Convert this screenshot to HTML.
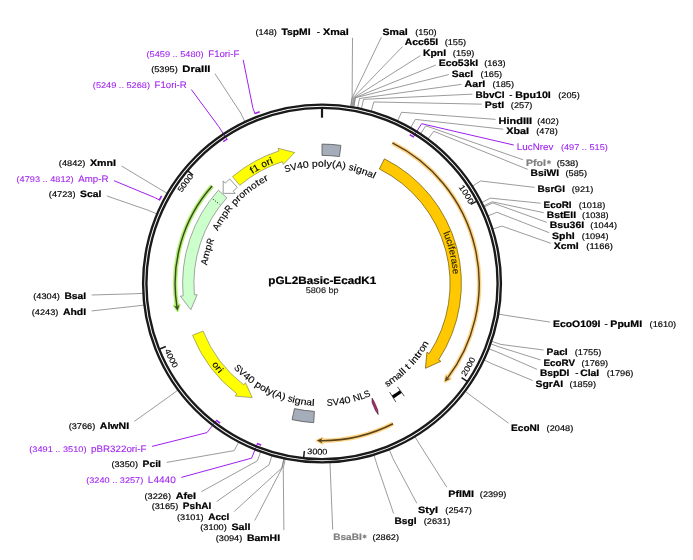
<!DOCTYPE html>
<html><head><meta charset="utf-8"><title>pGL2Basic-EcadK1</title>
<style>html,body{margin:0;padding:0;background:#fff;font-family:"Liberation Sans",sans-serif}svg{display:block;filter:blur(0.35px)}</style>
</head><body>
<svg width="693" height="560" viewBox="0 0 693 560" font-family="'Liberation Sans', sans-serif" text-rendering="geometricPrecision">
<rect width="693" height="560" fill="#fff"/>
<text x="382.5" y="34.7" font-size="9.3" font-weight="bold" fill="#000" stroke="#000" stroke-width="0.22" textLength="25.28" lengthAdjust="spacingAndGlyphs">SmaI</text>
<text x="415.15" y="34.7" font-size="8.2" fill="#000" stroke="#000" stroke-width="0.16" textLength="21.51" lengthAdjust="spacingAndGlyphs">(150)</text>
<text x="404.7" y="45.2" font-size="9.3" font-weight="bold" fill="#000" stroke="#000" stroke-width="0.22" textLength="33.51" lengthAdjust="spacingAndGlyphs">Acc65I</text>
<text x="444.7" y="45.2" font-size="8.2" fill="#000" stroke="#000" stroke-width="0.16" textLength="21.51" lengthAdjust="spacingAndGlyphs">(155)</text>
<text x="422.9" y="55.7" font-size="9.3" font-weight="bold" fill="#000" stroke="#000" stroke-width="0.22" textLength="23.17" lengthAdjust="spacingAndGlyphs">KpnI</text>
<text x="452.87" y="55.7" font-size="8.2" fill="#000" stroke="#000" stroke-width="0.16" textLength="21.51" lengthAdjust="spacingAndGlyphs">(159)</text>
<text x="438.7" y="66.2" font-size="9.3" font-weight="bold" fill="#000" stroke="#000" stroke-width="0.22" textLength="39.52" lengthAdjust="spacingAndGlyphs">Eco53kI</text>
<text x="484.16" y="66.2" font-size="8.2" fill="#000" stroke="#000" stroke-width="0.16" textLength="21.51" lengthAdjust="spacingAndGlyphs">(163)</text>
<text x="451.8" y="76.6" font-size="9.3" font-weight="bold" fill="#000" stroke="#000" stroke-width="0.22" textLength="21.24" lengthAdjust="spacingAndGlyphs">SacI</text>
<text x="480.63" y="76.6" font-size="8.2" fill="#000" stroke="#000" stroke-width="0.16" textLength="21.51" lengthAdjust="spacingAndGlyphs">(165)</text>
<text x="464.5" y="87.1" font-size="9.3" font-weight="bold" fill="#000" stroke="#000" stroke-width="0.22" textLength="20.83" lengthAdjust="spacingAndGlyphs">AarI</text>
<text x="492.53" y="87.1" font-size="8.2" fill="#000" stroke="#000" stroke-width="0.16" textLength="21.51" lengthAdjust="spacingAndGlyphs">(185)</text>
<text x="475.5" y="97.5" font-size="9.3" font-weight="bold" fill="#000" stroke="#000" stroke-width="0.22" textLength="29.12" lengthAdjust="spacingAndGlyphs">BbvCI</text>
<text x="509.32" y="97.5" font-size="9.3" fill="#000" stroke="#000" stroke-width="0.16" textLength="3.25" lengthAdjust="spacingAndGlyphs">-</text>
<text x="515.22" y="97.5" font-size="9.3" font-weight="bold" fill="#000" stroke="#000" stroke-width="0.22" textLength="35.58" lengthAdjust="spacingAndGlyphs">Bpu10I</text>
<text x="558.3" y="97.5" font-size="8.2" fill="#000" stroke="#000" stroke-width="0.16" textLength="21.51" lengthAdjust="spacingAndGlyphs">(205)</text>
<text x="484.7" y="108" font-size="9.3" font-weight="bold" fill="#000" stroke="#000" stroke-width="0.22" textLength="19.45" lengthAdjust="spacingAndGlyphs">PstI</text>
<text x="510.84" y="108" font-size="8.2" fill="#000" stroke="#000" stroke-width="0.16" textLength="21.51" lengthAdjust="spacingAndGlyphs">(257)</text>
<text x="498.6" y="123.6" font-size="9.3" font-weight="bold" fill="#000" stroke="#000" stroke-width="0.22" textLength="33.51" lengthAdjust="spacingAndGlyphs">HindIII</text>
<text x="537.25" y="123.6" font-size="8.2" fill="#000" stroke="#000" stroke-width="0.16" textLength="21.51" lengthAdjust="spacingAndGlyphs">(402)</text>
<text x="506.2" y="133.7" font-size="9.3" font-weight="bold" fill="#000" stroke="#000" stroke-width="0.22" textLength="22.8" lengthAdjust="spacingAndGlyphs">XbaI</text>
<text x="536.25" y="133.7" font-size="8.2" fill="#000" stroke="#000" stroke-width="0.16" textLength="21.51" lengthAdjust="spacingAndGlyphs">(478)</text>
<text x="516.8" y="150.3" font-size="9.3" fill="#a020f0" stroke="#a020f0" stroke-width="0.08" textLength="36.61" lengthAdjust="spacingAndGlyphs">LucNrev</text>
<text x="560.91" y="150.3" font-size="8.2" fill="#a020f0" stroke="#a020f0" stroke-width="0.08" textLength="46.95" lengthAdjust="spacingAndGlyphs">(497 .. 515)</text>
<text x="526" y="165.8" font-size="9.3" font-weight="bold" fill="#808080" stroke="#808080" stroke-width="0.22" textLength="20.04" lengthAdjust="spacingAndGlyphs">PfoI</text>
<path d="M548.94,160.1 L548.94,164.3" stroke="#808080" stroke-width="1.05"/>
<path d="M550.76,161.15 L547.12,163.25" stroke="#808080" stroke-width="1.05"/>
<path d="M550.76,163.25 L547.12,161.15" stroke="#808080" stroke-width="1.05"/>
<text x="556.75" y="165.8" font-size="8.2" fill="#000" stroke="#000" stroke-width="0.16" textLength="21.51" lengthAdjust="spacingAndGlyphs">(538)</text>
<text x="530.6" y="175.7" font-size="9.3" font-weight="bold" fill="#000" stroke="#000" stroke-width="0.22" textLength="28.58" lengthAdjust="spacingAndGlyphs">BsiWI</text>
<text x="565.52" y="175.7" font-size="8.2" fill="#000" stroke="#000" stroke-width="0.16" textLength="21.51" lengthAdjust="spacingAndGlyphs">(585)</text>
<text x="537.6" y="191.9" font-size="9.3" font-weight="bold" fill="#000" stroke="#000" stroke-width="0.22" textLength="27.39" lengthAdjust="spacingAndGlyphs">BsrGI</text>
<text x="571.79" y="191.9" font-size="8.2" fill="#000" stroke="#000" stroke-width="0.16" textLength="21.51" lengthAdjust="spacingAndGlyphs">(921)</text>
<text x="543.6" y="207.6" font-size="9.3" font-weight="bold" fill="#000" stroke="#000" stroke-width="0.22" textLength="27.95" lengthAdjust="spacingAndGlyphs">EcoRI</text>
<text x="578.65" y="207.6" font-size="8.2" fill="#000" stroke="#000" stroke-width="0.16" textLength="26.6" lengthAdjust="spacingAndGlyphs">(1018)</text>
<text x="546.7" y="217.8" font-size="9.3" font-weight="bold" fill="#000" stroke="#000" stroke-width="0.22" textLength="29.36" lengthAdjust="spacingAndGlyphs">BstEII</text>
<text x="582.09" y="217.8" font-size="8.2" fill="#000" stroke="#000" stroke-width="0.16" textLength="26.6" lengthAdjust="spacingAndGlyphs">(1038)</text>
<text x="549.7" y="228.4" font-size="9.3" font-weight="bold" fill="#000" stroke="#000" stroke-width="0.22" textLength="34.5" lengthAdjust="spacingAndGlyphs">Bsu36I</text>
<text x="590.37" y="228.4" font-size="8.2" fill="#000" stroke="#000" stroke-width="0.16" textLength="26.6" lengthAdjust="spacingAndGlyphs">(1044)</text>
<text x="552.1" y="238.9" font-size="9.3" font-weight="bold" fill="#000" stroke="#000" stroke-width="0.22" textLength="22.68" lengthAdjust="spacingAndGlyphs">SphI</text>
<text x="581.89" y="238.9" font-size="8.2" fill="#000" stroke="#000" stroke-width="0.16" textLength="26.6" lengthAdjust="spacingAndGlyphs">(1094)</text>
<text x="553.7" y="249.3" font-size="9.3" font-weight="bold" fill="#000" stroke="#000" stroke-width="0.22" textLength="25" lengthAdjust="spacingAndGlyphs">XcmI</text>
<text x="586.24" y="249.3" font-size="8.2" fill="#000" stroke="#000" stroke-width="0.16" textLength="26.6" lengthAdjust="spacingAndGlyphs">(1166)</text>
<text x="553" y="326.8" font-size="9.3" font-weight="bold" fill="#000" stroke="#000" stroke-width="0.22" textLength="47.45" lengthAdjust="spacingAndGlyphs">EcoO109I</text>
<text x="604.55" y="326.8" font-size="9.3" fill="#000" stroke="#000" stroke-width="0.16" textLength="3.25" lengthAdjust="spacingAndGlyphs">-</text>
<text x="610.35" y="326.8" font-size="9.3" font-weight="bold" fill="#000" stroke="#000" stroke-width="0.22" textLength="31.75" lengthAdjust="spacingAndGlyphs">PpuMI</text>
<text x="649.6" y="326.8" font-size="8.2" fill="#000" stroke="#000" stroke-width="0.16" textLength="26.6" lengthAdjust="spacingAndGlyphs">(1610)</text>
<text x="546.6" y="354.6" font-size="9.3" font-weight="bold" fill="#000" stroke="#000" stroke-width="0.22" textLength="21.11" lengthAdjust="spacingAndGlyphs">PacI</text>
<text x="574.74" y="354.6" font-size="8.2" fill="#000" stroke="#000" stroke-width="0.16" textLength="26.6" lengthAdjust="spacingAndGlyphs">(1755)</text>
<text x="543.5" y="365.7" font-size="9.3" font-weight="bold" fill="#000" stroke="#000" stroke-width="0.22" textLength="31.56" lengthAdjust="spacingAndGlyphs">EcoRV</text>
<text x="581.56" y="365.7" font-size="8.2" fill="#000" stroke="#000" stroke-width="0.16" textLength="26.6" lengthAdjust="spacingAndGlyphs">(1769)</text>
<text x="539.9" y="375.8" font-size="9.3" font-weight="bold" fill="#000" stroke="#000" stroke-width="0.22" textLength="29.48" lengthAdjust="spacingAndGlyphs">BspDI</text>
<text x="575.18" y="375.8" font-size="9.3" fill="#000" stroke="#000" stroke-width="0.16" textLength="3.25" lengthAdjust="spacingAndGlyphs">-</text>
<text x="580.18" y="375.8" font-size="9.3" font-weight="bold" fill="#000" stroke="#000" stroke-width="0.22" textLength="19.11" lengthAdjust="spacingAndGlyphs">ClaI</text>
<text x="606.79" y="375.8" font-size="8.2" fill="#000" stroke="#000" stroke-width="0.16" textLength="26.6" lengthAdjust="spacingAndGlyphs">(1796)</text>
<text x="535.5" y="386.8" font-size="9.3" font-weight="bold" fill="#000" stroke="#000" stroke-width="0.22" textLength="27.68" lengthAdjust="spacingAndGlyphs">SgrAI</text>
<text x="569.44" y="386.8" font-size="8.2" fill="#000" stroke="#000" stroke-width="0.16" textLength="26.6" lengthAdjust="spacingAndGlyphs">(1859)</text>
<text x="511.1" y="431" font-size="9.3" font-weight="bold" fill="#000" stroke="#000" stroke-width="0.22" textLength="28.55" lengthAdjust="spacingAndGlyphs">EcoNI</text>
<text x="546.63" y="431" font-size="8.2" fill="#000" stroke="#000" stroke-width="0.16" textLength="26.6" lengthAdjust="spacingAndGlyphs">(2048)</text>
<text x="448.3" y="496.7" font-size="9.3" font-weight="bold" fill="#000" stroke="#000" stroke-width="0.22" textLength="25.57" lengthAdjust="spacingAndGlyphs">PflMI</text>
<text x="479.82" y="496.7" font-size="8.2" fill="#000" stroke="#000" stroke-width="0.16" textLength="26.6" lengthAdjust="spacingAndGlyphs">(2399)</text>
<text x="418.1" y="513.1" font-size="9.3" font-weight="bold" fill="#000" stroke="#000" stroke-width="0.22" textLength="20" lengthAdjust="spacingAndGlyphs">StyI</text>
<text x="445.32" y="513.1" font-size="8.2" fill="#000" stroke="#000" stroke-width="0.16" textLength="26.6" lengthAdjust="spacingAndGlyphs">(2547)</text>
<text x="394.5" y="523.7" font-size="9.3" font-weight="bold" fill="#000" stroke="#000" stroke-width="0.22" textLength="22.01" lengthAdjust="spacingAndGlyphs">BsgI</text>
<text x="423.73" y="523.7" font-size="8.2" fill="#000" stroke="#000" stroke-width="0.16" textLength="26.6" lengthAdjust="spacingAndGlyphs">(2631)</text>
<text x="333.2" y="540.1" font-size="9.3" font-weight="bold" fill="#808080" stroke="#808080" stroke-width="0.22" textLength="28.5" lengthAdjust="spacingAndGlyphs">BsaBI</text>
<path d="M364.6,534.4 L364.6,538.6" stroke="#808080" stroke-width="1.05"/>
<path d="M366.42,535.45 L362.78,537.55" stroke="#808080" stroke-width="1.05"/>
<path d="M366.42,537.55 L362.78,535.45" stroke="#808080" stroke-width="1.05"/>
<text x="372.4" y="540.1" font-size="8.2" fill="#000" stroke="#000" stroke-width="0.16" textLength="26.6" lengthAdjust="spacingAndGlyphs">(2862)</text>
<text x="281.51" y="34.6" font-size="9.3" font-weight="bold" fill="#000" stroke="#000" stroke-width="0.22" textLength="29.05" lengthAdjust="spacingAndGlyphs">TspMI</text>
<text x="316.76" y="34.6" font-size="9.3" fill="#000" stroke="#000" stroke-width="0.16" textLength="3.25" lengthAdjust="spacingAndGlyphs">-</text>
<text x="322.96" y="34.6" font-size="9.3" font-weight="bold" fill="#000" stroke="#000" stroke-width="0.22" textLength="25.74" lengthAdjust="spacingAndGlyphs">XmaI</text>
<text x="255.4" y="34.6" font-size="8.2" fill="#000" stroke="#000" stroke-width="0.16" textLength="21.51" lengthAdjust="spacingAndGlyphs">(148)</text>
<text x="208.27" y="56.8" font-size="9.3" fill="#a020f0" stroke="#a020f0" stroke-width="0.08" textLength="31.03" lengthAdjust="spacingAndGlyphs">F1ori-F</text>
<text x="146.53" y="56.8" font-size="8.2" fill="#a020f0" stroke="#a020f0" stroke-width="0.08" textLength="57.13" lengthAdjust="spacingAndGlyphs">(5459 .. 5480)</text>
<text x="182.37" y="71.6" font-size="9.3" font-weight="bold" fill="#000" stroke="#000" stroke-width="0.22" textLength="28.03" lengthAdjust="spacingAndGlyphs">DraIII</text>
<text x="151.17" y="71.6" font-size="8.2" fill="#000" stroke="#000" stroke-width="0.16" textLength="26.6" lengthAdjust="spacingAndGlyphs">(5395)</text>
<text x="154.59" y="87.7" font-size="9.3" fill="#a020f0" stroke="#a020f0" stroke-width="0.08" textLength="32.11" lengthAdjust="spacingAndGlyphs">F1ori-R</text>
<text x="92.86" y="87.7" font-size="8.2" fill="#a020f0" stroke="#a020f0" stroke-width="0.08" textLength="57.13" lengthAdjust="spacingAndGlyphs">(5249 .. 5268)</text>
<text x="90.03" y="166.1" font-size="9.3" font-weight="bold" fill="#000" stroke="#000" stroke-width="0.22" textLength="26.07" lengthAdjust="spacingAndGlyphs">XmnI</text>
<text x="58.83" y="166.1" font-size="8.2" fill="#000" stroke="#000" stroke-width="0.16" textLength="26.6" lengthAdjust="spacingAndGlyphs">(4842)</text>
<text x="78.26" y="181.7" font-size="9.3" fill="#a020f0" stroke="#a020f0" stroke-width="0.08" textLength="30.14" lengthAdjust="spacingAndGlyphs">Amp-R</text>
<text x="16.53" y="181.7" font-size="8.2" fill="#a020f0" stroke="#a020f0" stroke-width="0.08" textLength="57.13" lengthAdjust="spacingAndGlyphs">(4793 .. 4812)</text>
<text x="80.06" y="197.4" font-size="9.3" font-weight="bold" fill="#000" stroke="#000" stroke-width="0.22" textLength="21.24" lengthAdjust="spacingAndGlyphs">ScaI</text>
<text x="48.86" y="197.4" font-size="8.2" fill="#000" stroke="#000" stroke-width="0.16" textLength="26.6" lengthAdjust="spacingAndGlyphs">(4723)</text>
<text x="64.46" y="298.9" font-size="9.3" font-weight="bold" fill="#000" stroke="#000" stroke-width="0.22" textLength="21.64" lengthAdjust="spacingAndGlyphs">BsaI</text>
<text x="33.26" y="298.9" font-size="8.2" fill="#000" stroke="#000" stroke-width="0.16" textLength="26.6" lengthAdjust="spacingAndGlyphs">(4304)</text>
<text x="62.94" y="315.4" font-size="9.3" font-weight="bold" fill="#000" stroke="#000" stroke-width="0.22" textLength="23.16" lengthAdjust="spacingAndGlyphs">AhdI</text>
<text x="31.74" y="315.4" font-size="8.2" fill="#000" stroke="#000" stroke-width="0.16" textLength="26.6" lengthAdjust="spacingAndGlyphs">(4243)</text>
<text x="99.85" y="429.1" font-size="9.3" font-weight="bold" fill="#000" stroke="#000" stroke-width="0.22" textLength="29.25" lengthAdjust="spacingAndGlyphs">AlwNI</text>
<text x="68.65" y="429.1" font-size="8.2" fill="#000" stroke="#000" stroke-width="0.16" textLength="26.6" lengthAdjust="spacingAndGlyphs">(3766)</text>
<text x="91.05" y="451.8" font-size="9.3" fill="#a020f0" stroke="#a020f0" stroke-width="0.08" textLength="55.45" lengthAdjust="spacingAndGlyphs">pBR322ori-F</text>
<text x="29.32" y="451.8" font-size="8.2" fill="#a020f0" stroke="#a020f0" stroke-width="0.08" textLength="57.13" lengthAdjust="spacingAndGlyphs">(3491 .. 3510)</text>
<text x="142.63" y="467.3" font-size="9.3" font-weight="bold" fill="#000" stroke="#000" stroke-width="0.22" textLength="18.37" lengthAdjust="spacingAndGlyphs">PciI</text>
<text x="111.43" y="467.3" font-size="8.2" fill="#000" stroke="#000" stroke-width="0.16" textLength="26.6" lengthAdjust="spacingAndGlyphs">(3350)</text>
<text x="147.88" y="482.9" font-size="9.3" fill="#a020f0" stroke="#a020f0" stroke-width="0.08" textLength="27.92" lengthAdjust="spacingAndGlyphs">L4440</text>
<text x="86.15" y="482.9" font-size="8.2" fill="#a020f0" stroke="#a020f0" stroke-width="0.08" textLength="57.13" lengthAdjust="spacingAndGlyphs">(3240 .. 3257)</text>
<text x="175.67" y="498.7" font-size="9.3" font-weight="bold" fill="#000" stroke="#000" stroke-width="0.22" textLength="20.33" lengthAdjust="spacingAndGlyphs">AfeI</text>
<text x="144.46" y="498.7" font-size="8.2" fill="#000" stroke="#000" stroke-width="0.16" textLength="26.6" lengthAdjust="spacingAndGlyphs">(3226)</text>
<text x="182.88" y="509.2" font-size="9.3" font-weight="bold" fill="#000" stroke="#000" stroke-width="0.22" textLength="28.52" lengthAdjust="spacingAndGlyphs">PshAI</text>
<text x="151.68" y="509.2" font-size="8.2" fill="#000" stroke="#000" stroke-width="0.16" textLength="26.6" lengthAdjust="spacingAndGlyphs">(3165)</text>
<text x="208.22" y="519.8" font-size="9.3" font-weight="bold" fill="#000" stroke="#000" stroke-width="0.22" textLength="20.98" lengthAdjust="spacingAndGlyphs">AccI</text>
<text x="177.01" y="519.8" font-size="8.2" fill="#000" stroke="#000" stroke-width="0.16" textLength="26.6" lengthAdjust="spacingAndGlyphs">(3101)</text>
<text x="231.41" y="530.3" font-size="9.3" font-weight="bold" fill="#000" stroke="#000" stroke-width="0.22" textLength="18.99" lengthAdjust="spacingAndGlyphs">SalI</text>
<text x="200.21" y="530.3" font-size="8.2" fill="#000" stroke="#000" stroke-width="0.16" textLength="26.6" lengthAdjust="spacingAndGlyphs">(3100)</text>
<text x="246.91" y="540.7" font-size="9.3" font-weight="bold" fill="#000" stroke="#000" stroke-width="0.22" textLength="33.19" lengthAdjust="spacingAndGlyphs">BamHI</text>
<text x="215.71" y="540.7" font-size="8.2" fill="#000" stroke="#000" stroke-width="0.16" textLength="26.6" lengthAdjust="spacingAndGlyphs">(3094)</text>
<path d="M381.33,37.22 L352.51,97.18 L350.88,107.15" fill="none" stroke="#7a7a7a" stroke-width="0.75"/>
<path d="M402.63,46.46 L353.52,97.35 L351.83,107.31" fill="none" stroke="#7a7a7a" stroke-width="0.75"/>
<path d="M420.28,55.69 L354.33,97.49 L352.6,107.44" fill="none" stroke="#7a7a7a" stroke-width="0.75"/>
<path d="M435.83,65.08 L355.13,97.63 L353.36,107.57" fill="none" stroke="#7a7a7a" stroke-width="0.75"/>
<path d="M448.83,74.56 L355.53,97.7 L353.74,107.64" fill="none" stroke="#7a7a7a" stroke-width="0.75"/>
<path d="M461.51,84.35 L359.55,98.47 L357.54,108.37" fill="none" stroke="#7a7a7a" stroke-width="0.75"/>
<path d="M472.5,94.13 L363.54,99.33 L361.32,109.18" fill="none" stroke="#7a7a7a" stroke-width="0.75"/>
<path d="M481.7,104.16 L373.84,101.96 L371.06,111.67" fill="none" stroke="#7a7a7a" stroke-width="0.75"/>
<path d="M495.6,119.38 L401.57,112.29 L397.31,121.45" fill="none" stroke="#7a7a7a" stroke-width="0.75"/>
<path d="M503.2,129.23 L415.37,119.4 L410.37,128.18" fill="none" stroke="#7a7a7a" stroke-width="0.75"/>
<path d="M513.83,145.04 L421.6,123.7 L413.4,136.85" fill="none" stroke="#a020f0" stroke-width="1" stroke-linejoin="miter"/>
<path d="M413.82,137.11 A172.8,172.8 0 0 0 409.75,134.64" fill="none" stroke="#a020f0" stroke-width="1.6"/>
<path d="M523.09,159.82 L425.82,125.81 L420.26,134.24" fill="none" stroke="#7a7a7a" stroke-width="0.75"/>
<path d="M527.73,169.41 L433.7,131.29 L427.72,139.43" fill="none" stroke="#7a7a7a" stroke-width="0.75"/>
<path d="M534.6,187.39 L480.53,180.97 L472.05,186.45" fill="none" stroke="#7a7a7a" stroke-width="0.75"/>
<path d="M540.6,203.21 L490.4,198.14 L481.39,202.71" fill="none" stroke="#7a7a7a" stroke-width="0.75"/>
<path d="M543.72,212.68 L492.21,201.81 L483.1,206.18" fill="none" stroke="#7a7a7a" stroke-width="0.75"/>
<path d="M546.8,222.36 L492.74,202.91 L483.6,207.22" fill="none" stroke="#7a7a7a" stroke-width="0.75"/>
<path d="M549.22,232.69 L496.85,212.27 L487.49,216.08" fill="none" stroke="#7a7a7a" stroke-width="0.75"/>
<path d="M550.79,243.31 L501.86,226.09 L492.24,229.16" fill="none" stroke="#7a7a7a" stroke-width="0.75"/>
<path d="M550.01,322.07 L508.03,315.73 L498.08,314" fill="none" stroke="#7a7a7a" stroke-width="0.75"/>
<path d="M543.61,350.01 L500.71,344.4 L491.15,341.14" fill="none" stroke="#7a7a7a" stroke-width="0.75"/>
<path d="M540.57,359.93 L499.76,347.1 L490.25,343.7" fill="none" stroke="#7a7a7a" stroke-width="0.75"/>
<path d="M537.06,369.35 L497.83,352.27 L488.42,348.59" fill="none" stroke="#7a7a7a" stroke-width="0.75"/>
<path d="M532.64,380.48 L492.74,364.09 L483.6,359.78" fill="none" stroke="#7a7a7a" stroke-width="0.75"/>
<path d="M508.61,423.23 L472.81,397.09 L464.74,391.01" fill="none" stroke="#7a7a7a" stroke-width="0.75"/>
<path d="M446.8,487.18 L419.95,444.91 L414.71,436.27" fill="none" stroke="#7a7a7a" stroke-width="0.75"/>
<path d="M416.82,503.31 L392.95,458.46 L389.16,449.1" fill="none" stroke="#7a7a7a" stroke-width="0.75"/>
<path d="M393.62,513.47 L376.78,464.18 L373.84,454.51" fill="none" stroke="#7a7a7a" stroke-width="0.75"/>
<path d="M332.69,529.51 L330.37,472.11 L329.93,462.02" fill="none" stroke="#7a7a7a" stroke-width="0.75"/>
<path d="M352.5,37.8 L352.11,97.12 L350.5,107.09" fill="none" stroke="#7a7a7a" stroke-width="0.75"/>
<path d="M243.2,59.86 L252.94,108.32 L254.96,113.44" fill="none" stroke="#a020f0" stroke-width="1" stroke-linejoin="miter"/>
<path d="M254.49,113.62 A182.8,182.8 0 0 1 259.68,111.65" fill="none" stroke="#a020f0" stroke-width="1.6"/>
<path d="M214.95,73.67 L240.77,113.07 L245.11,122.19" fill="none" stroke="#7a7a7a" stroke-width="0.75"/>
<path d="M191.36,89.55 L218.46,126.22 L226.98,139.17" fill="none" stroke="#a020f0" stroke-width="1" stroke-linejoin="miter"/>
<path d="M227.4,138.9 A172.8,172.8 0 0 0 223.29,141.67" fill="none" stroke="#a020f0" stroke-width="1.6"/>
<path d="M121.45,165.95 L158.87,188.45 L167.6,193.54" fill="none" stroke="#7a7a7a" stroke-width="0.75"/>
<path d="M113.9,180.64 L154.51,197.46 L159.4,199.97" fill="none" stroke="#a020f0" stroke-width="1" stroke-linejoin="miter"/>
<path d="M159.17,200.42 A182.8,182.8 0 0 1 161.58,195.86" fill="none" stroke="#a020f0" stroke-width="1.6"/>
<path d="M106.84,195.95 L148.01,210.19 L157.32,214.11" fill="none" stroke="#7a7a7a" stroke-width="0.75"/>
<path d="M91.7,295 L133.48,293.81 L143.57,293.26" fill="none" stroke="#7a7a7a" stroke-width="0.75"/>
<path d="M91.7,310.95 L134.57,306.23 L144.6,305.01" fill="none" stroke="#7a7a7a" stroke-width="0.75"/>
<path d="M134.35,421.39 L170.21,395.78 L178.33,389.77" fill="none" stroke="#7a7a7a" stroke-width="0.75"/>
<path d="M152.07,446.42 L207.01,432.61 L216.48,420.34" fill="none" stroke="#a020f0" stroke-width="1" stroke-linejoin="miter"/>
<path d="M216.08,420.03 A172.8,172.8 0 0 0 220.04,423.01" fill="none" stroke="#a020f0" stroke-width="1.6"/>
<path d="M166.59,462.42 L234.19,450.64 L238.89,441.7" fill="none" stroke="#7a7a7a" stroke-width="0.75"/>
<path d="M181.37,477.38 L251.61,458.15 L257.41,443.77" fill="none" stroke="#a020f0" stroke-width="1" stroke-linejoin="miter"/>
<path d="M256.95,443.59 A172.8,172.8 0 0 0 261.21,445.25" fill="none" stroke="#a020f0" stroke-width="1.6"/>
<path d="M201.4,491.67 L257.34,460.88 L260.8,451.39" fill="none" stroke="#7a7a7a" stroke-width="0.75"/>
<path d="M216.66,501.54 L269.18,464.76 L272.01,455.07" fill="none" stroke="#7a7a7a" stroke-width="0.75"/>
<path d="M234.25,511.45 L281.85,467.98 L284,458.11" fill="none" stroke="#7a7a7a" stroke-width="0.75"/>
<path d="M254.74,520.48 L282.05,468.03 L284.19,458.15" fill="none" stroke="#7a7a7a" stroke-width="0.75"/>
<path d="M283.9,530.1 L283.25,468.28 L285.33,458.4" fill="none" stroke="#7a7a7a" stroke-width="0.75"/>
<circle cx="322" cy="283.5" r="178.9" fill="none" stroke="#1a1a1a" stroke-width="2.4"/>
<circle cx="322" cy="283.5" r="175.6" fill="none" stroke="#1a1a1a" stroke-width="2.4"/>
<path d="M322,107.9 L322,117.7" stroke="#1a1a1a" stroke-width="2.2"/>
<path d="M477.05,201.07 L470.7,204.45" stroke="#1a1a1a" stroke-width="1.5"/>
<text transform="translate(459.99,189.44) rotate(55.72) scale(1.12,1)" font-size="8.2" fill="#000" stroke="#000" stroke-width="0.12" text-anchor="middle">1</text>
<text transform="translate(462.8,193.69) rotate(57.47) scale(1.12,1)" font-size="8.2" fill="#000" stroke="#000" stroke-width="0.12" text-anchor="middle">0</text>
<text transform="translate(465.47,198.02) rotate(59.21) scale(1.12,1)" font-size="8.2" fill="#000" stroke="#000" stroke-width="0.12" text-anchor="middle">0</text>
<text transform="translate(468.01,202.44) rotate(60.96) scale(1.12,1)" font-size="8.2" fill="#000" stroke="#000" stroke-width="0.12" text-anchor="middle">0</text>
<path d="M467.56,381.72 L461.59,377.69" stroke="#1a1a1a" stroke-width="1.5"/>
<text transform="translate(466.86,374.56) rotate(302.15) scale(1.12,1)" font-size="8.2" fill="#000" stroke="#000" stroke-width="0.12" text-anchor="middle">2</text>
<text transform="translate(469.5,370.21) rotate(300.45) scale(1.12,1)" font-size="8.2" fill="#000" stroke="#000" stroke-width="0.12" text-anchor="middle">0</text>
<text transform="translate(472.02,365.78) rotate(298.74) scale(1.12,1)" font-size="8.2" fill="#000" stroke="#000" stroke-width="0.12" text-anchor="middle">0</text>
<text transform="translate(474.4,361.28) rotate(297.04) scale(1.12,1)" font-size="8.2" fill="#000" stroke="#000" stroke-width="0.12" text-anchor="middle">0</text>
<path d="M303.6,458.13 L304.36,450.97" stroke="#1a1a1a" stroke-width="1.5"/>
<text transform="translate(309.6,454.15) rotate(364.16) scale(1.12,1)" font-size="8.2" fill="#000" stroke="#000" stroke-width="0.12" text-anchor="middle">3</text>
<text transform="translate(314.68,454.44) rotate(362.45) scale(1.12,1)" font-size="8.2" fill="#000" stroke="#000" stroke-width="0.12" text-anchor="middle">0</text>
<text transform="translate(319.76,454.59) rotate(360.75) scale(1.12,1)" font-size="8.2" fill="#000" stroke="#000" stroke-width="0.12" text-anchor="middle">0</text>
<text transform="translate(324.85,454.58) rotate(359.04) scale(1.12,1)" font-size="8.2" fill="#000" stroke="#000" stroke-width="0.12" text-anchor="middle">0</text>
<path d="M159.16,349.23 L165.84,346.53" stroke="#1a1a1a" stroke-width="1.5"/>
<text transform="translate(165.5,352.65) rotate(426.16) scale(1.12,1)" font-size="8.2" fill="#000" stroke="#000" stroke-width="0.12" text-anchor="middle">4</text>
<text transform="translate(167.62,357.27) rotate(424.46) scale(1.12,1)" font-size="8.2" fill="#000" stroke="#000" stroke-width="0.12" text-anchor="middle">0</text>
<text transform="translate(169.88,361.83) rotate(422.75) scale(1.12,1)" font-size="8.2" fill="#000" stroke="#000" stroke-width="0.12" text-anchor="middle">0</text>
<text transform="translate(172.28,366.32) rotate(421.05) scale(1.12,1)" font-size="8.2" fill="#000" stroke="#000" stroke-width="0.12" text-anchor="middle">0</text>
<path d="M187.53,170.57 L193.04,175.2" stroke="#1a1a1a" stroke-width="1.5"/>
<text transform="translate(183.13,190.74) rotate(303.74) scale(1.12,1)" font-size="8.2" fill="#000" stroke="#000" stroke-width="0.12" text-anchor="middle">5</text>
<text transform="translate(186.02,186.55) rotate(305.49) scale(1.12,1)" font-size="8.2" fill="#000" stroke="#000" stroke-width="0.12" text-anchor="middle">0</text>
<text transform="translate(189.04,182.46) rotate(307.23) scale(1.12,1)" font-size="8.2" fill="#000" stroke="#000" stroke-width="0.12" text-anchor="middle">0</text>
<text transform="translate(192.18,178.45) rotate(308.98) scale(1.12,1)" font-size="8.2" fill="#000" stroke="#000" stroke-width="0.12" text-anchor="middle">0</text>
<path d="M322,144.1 A139.4,139.4 0 0 1 340.95,145.39 L339.41,156.59 A128.1,128.1 0 0 0 322,155.4 Z" fill="#a6adba" stroke="#555" stroke-width="0.8" stroke-linejoin="miter"/>
<path d="M384.42,158.85 A139.4,139.4 0 0 1 438.62,359.86 L440.88,361.34 L425.44,368.29 L426.91,352.19 L429.17,353.67 A128.1,128.1 0 0 0 379.36,168.96 Z" fill="#ffc800" stroke="#6b5500" stroke-width="0.7" stroke-linejoin="miter"/>
<path d="M392.39,142.94 A157.2,157.2 0 0 1 447.31,378.41" fill="none" stroke="#ffd689" stroke-width="4.4" stroke-linecap="butt"/>
<path d="M444.86,381.57 L450.44,378.74 L447.31,378.41 L446.1,375.52 Z" fill="#ffd689" stroke="#ffd689" stroke-width="2.4" stroke-linejoin="round"/>
<path d="M392.39,142.94 A157.2,157.2 0 0 1 447.31,378.41" fill="none" stroke="#5a431a" stroke-width="1.45"/>
<path d="M444.86,381.57 L450.44,378.74 L447.31,378.41 L446.1,375.52 Z" fill="#5a431a" stroke="none"/>
<path d="M400.9,391.5 A133.75,133.75 0 0 1 392.74,397.01" fill="none" stroke="#000" stroke-width="3.4"/>
<path d="M397.45,386.78 L404.35,396.23" stroke="#222" stroke-width="0.8"/>
<path d="M389.65,392.05 L395.84,401.97" stroke="#222" stroke-width="0.8"/>
<path d="M372.1,398.13 L374.11,401.62 L377.66,409.67 L378.21,414.55 L375.49,410.61 L372.07,402.49 Z" fill="#b02c6e" stroke="#3a0c26" stroke-width="0.6" stroke-linejoin="miter"/>
<path d="M393,423.75 A157.2,157.2 0 0 1 320.9,440.7" fill="none" stroke="#ffd689" stroke-width="4.4" stroke-linecap="butt"/>
<path d="M316.9,440.62 L322.5,443.4 L320.9,440.7 L322.49,438 Z" fill="#ffd689" stroke="#ffd689" stroke-width="2.4" stroke-linejoin="round"/>
<path d="M393,423.75 A157.2,157.2 0 0 1 320.9,440.7" fill="none" stroke="#5a431a" stroke-width="1.45"/>
<path d="M316.9,440.62 L322.5,443.4 L320.9,440.7 L322.49,438 Z" fill="#5a431a" stroke="none"/>
<path d="M313.71,422.65 A139.4,139.4 0 0 1 292.06,419.65 L294.49,408.61 A128.1,128.1 0 0 0 314.38,411.37 Z" fill="#a6adba" stroke="#555" stroke-width="0.8" stroke-linejoin="miter"/>
<path d="M192.56,335.26 A139.4,139.4 0 0 0 236.85,393.87 L235.14,396.09 L252.24,397.62 L245.47,382.71 L243.76,384.93 A128.1,128.1 0 0 1 203.06,331.06 Z" fill="#ffff00" stroke="#8a8a55" stroke-width="0.7" stroke-linejoin="miter"/>
<path d="M218.42,190.21 A139.4,139.4 0 0 0 183.15,295.9 L180.36,296.15 L190.85,309.74 L197.2,294.65 L194.41,294.9 A128.1,128.1 0 0 1 226.82,197.77 Z" fill="#ccffcc" stroke="#808080" stroke-width="0.7" stroke-linejoin="miter"/>
<path d="M212.1,186.02 A146.9,146.9 0 0 0 176.96,306.82" fill="none" stroke="#b4f070" stroke-width="4.4" stroke-linecap="butt"/>
<path d="M177.65,310.76 L174.05,305.64 L176.96,306.82 L179.39,304.84 Z" fill="#b4f070" stroke="#b4f070" stroke-width="2.4" stroke-linejoin="round"/>
<path d="M212.1,186.02 A146.9,146.9 0 0 0 176.96,306.82" fill="none" stroke="#3a4a28" stroke-width="1.45"/>
<path d="M177.65,310.76 L174.05,305.64 L176.96,306.82 L179.39,304.84 Z" fill="#3a4a28" stroke="none"/>
<path d="M212.93,199.11 L219.5,204.19" stroke="#000" stroke-width="0.9" stroke-dasharray="1,1.6"/>
<path d="M229.78,178.97 A139.4,139.4 0 0 0 225.28,183.12 L223.2,180.95 L223.2,193.35 L235.2,193.41 L233.12,191.25 A128.1,128.1 0 0 1 237.25,187.44 Z" fill="#fff" stroke="#808080" stroke-width="0.8" stroke-linejoin="miter"/>
<path d="M232.52,176.61 A139.4,139.4 0 0 1 278.94,150.92 L278.08,148.25 L294.69,152.57 L283.3,164.33 L282.43,161.66 A128.1,128.1 0 0 0 239.78,185.27 Z" fill="#ffff00" stroke="#8a8a55" stroke-width="0.7" stroke-linejoin="miter"/>
<text transform="translate(443.62,233.89) rotate(67.81) scale(1.19,1)" font-size="9.3" fill="#2a2200" stroke="#2a2200" stroke-width="0.12" text-anchor="middle">l</text>
<text transform="translate(445.08,237.64) rotate(69.56) scale(1.08,1)" font-size="9.3" fill="#2a2200" stroke="#2a2200" stroke-width="0.12" text-anchor="middle">u</text>
<text transform="translate(446.81,242.56) rotate(71.84) scale(1.04,1)" font-size="9.3" fill="#2a2200" stroke="#2a2200" stroke-width="0.12" text-anchor="middle">c</text>
<text transform="translate(447.9,246.05) rotate(73.43) scale(1.19,1)" font-size="9.3" fill="#2a2200" stroke="#2a2200" stroke-width="0.12" text-anchor="middle">i</text>
<text transform="translate(448.66,248.72) rotate(74.64) scale(1.2,1)" font-size="9.3" fill="#2a2200" stroke="#2a2200" stroke-width="0.12" text-anchor="middle">f</text>
<text transform="translate(449.72,252.85) rotate(76.51) scale(1.05,1)" font-size="9.3" fill="#2a2200" stroke="#2a2200" stroke-width="0.12" text-anchor="middle">e</text>
<text transform="translate(450.7,257.27) rotate(78.48) scale(1.17,1)" font-size="9.3" fill="#2a2200" stroke="#2a2200" stroke-width="0.12" text-anchor="middle">r</text>
<text transform="translate(451.53,261.71) rotate(80.45) scale(1.05,1)" font-size="9.3" fill="#2a2200" stroke="#2a2200" stroke-width="0.12" text-anchor="middle">a</text>
<text transform="translate(452.26,266.65) rotate(82.63) scale(0.99,1)" font-size="9.3" fill="#2a2200" stroke="#2a2200" stroke-width="0.12" text-anchor="middle">s</text>
<text transform="translate(452.81,271.63) rotate(84.82) scale(1.05,1)" font-size="9.3" fill="#2a2200" stroke="#2a2200" stroke-width="0.12" text-anchor="middle">e</text>
<text transform="translate(253.63,173.11) rotate(328.23) scale(1.22,1)" font-size="9.5" fill="#000" stroke="#000" stroke-width="0.12" text-anchor="middle">f</text>
<text transform="translate(257.57,170.76) rotate(330.25) scale(1.12,1)" font-size="9.5" fill="#000" stroke="#000" stroke-width="0.12" text-anchor="middle">1</text>
<text transform="translate(265.29,166.69) rotate(334.1) scale(1.07,1)" font-size="9.5" fill="#000" stroke="#000" stroke-width="0.12" text-anchor="middle">o</text>
<text transform="translate(269.59,164.7) rotate(336.2) scale(1.2,1)" font-size="9.5" fill="#000" stroke="#000" stroke-width="0.12" text-anchor="middle">r</text>
<text transform="translate(272.53,163.44) rotate(337.61) scale(1.22,1)" font-size="9.5" fill="#000" stroke="#000" stroke-width="0.12" text-anchor="middle">i</text>
<text transform="translate(213.4,366.6) rotate(412.58) scale(1.06,1)" font-size="9.3" fill="#000" stroke="#000" stroke-width="0.12" text-anchor="middle">o</text>
<text transform="translate(216.26,370.21) rotate(410.65) scale(1.19,1)" font-size="9.3" fill="#000" stroke="#000" stroke-width="0.12" text-anchor="middle">r</text>
<text transform="translate(218.25,372.59) rotate(409.35) scale(1.21,1)" font-size="9.3" fill="#000" stroke="#000" stroke-width="0.12" text-anchor="middle">i</text>
<text transform="translate(288.33,171.66) rotate(-16.75) scale(0.94,1)" font-size="9.5" fill="#000" stroke="#000" stroke-width="0.12" text-anchor="middle">S</text>
<text transform="translate(294.27,170.04) rotate(-13.73) scale(1.01,1)" font-size="9.5" fill="#000" stroke="#000" stroke-width="0.12" text-anchor="middle">V</text>
<text transform="translate(300.29,168.73) rotate(-10.71) scale(1.12,1)" font-size="9.5" fill="#000" stroke="#000" stroke-width="0.12" text-anchor="middle">4</text>
<text transform="translate(306.15,167.78) rotate(-7.8) scale(1.12,1)" font-size="9.5" fill="#000" stroke="#000" stroke-width="0.12" text-anchor="middle">0</text>
<text transform="translate(315.01,166.91) rotate(-3.43) scale(1.12,1)" font-size="9.5" fill="#000" stroke="#000" stroke-width="0.12" text-anchor="middle">p</text>
<text transform="translate(320.82,166.71) rotate(-0.58) scale(1.08,1)" font-size="9.5" fill="#000" stroke="#000" stroke-width="0.12" text-anchor="middle">o</text>
<text transform="translate(324.97,166.74) rotate(1.46) scale(1.22,1)" font-size="9.5" fill="#000" stroke="#000" stroke-width="0.12" text-anchor="middle">l</text>
<text transform="translate(329.03,166.91) rotate(3.45) scale(1.16,1)" font-size="9.5" fill="#000" stroke="#000" stroke-width="0.12" text-anchor="middle">y</text>
<text transform="translate(333.59,167.28) rotate(5.7) scale(1.15,1)" font-size="9.5" fill="#000" stroke="#000" stroke-width="0.12" text-anchor="middle">(</text>
<text transform="translate(338.57,167.88) rotate(8.16) scale(1.01,1)" font-size="9.5" fill="#000" stroke="#000" stroke-width="0.12" text-anchor="middle">A</text>
<text transform="translate(343.51,168.7) rotate(10.61) scale(1.15,1)" font-size="9.5" fill="#000" stroke="#000" stroke-width="0.12" text-anchor="middle">)</text>
<text transform="translate(350.56,170.25) rotate(14.16) scale(1.02,1)" font-size="9.5" fill="#000" stroke="#000" stroke-width="0.12" text-anchor="middle">s</text>
<text transform="translate(354.16,171.22) rotate(15.98) scale(1.22,1)" font-size="9.5" fill="#000" stroke="#000" stroke-width="0.12" text-anchor="middle">i</text>
<text transform="translate(358.23,172.46) rotate(18.07) scale(1.12,1)" font-size="9.5" fill="#000" stroke="#000" stroke-width="0.12" text-anchor="middle">g</text>
<text transform="translate(363.81,174.44) rotate(20.98) scale(1.12,1)" font-size="9.5" fill="#000" stroke="#000" stroke-width="0.12" text-anchor="middle">n</text>
<text transform="translate(369.19,176.66) rotate(23.83) scale(1.08,1)" font-size="9.5" fill="#000" stroke="#000" stroke-width="0.12" text-anchor="middle">a</text>
<text transform="translate(372.96,178.4) rotate(25.87) scale(1.22,1)" font-size="9.5" fill="#000" stroke="#000" stroke-width="0.12" text-anchor="middle">l</text>
<text transform="translate(235.59,370.47) rotate(404.81) scale(0.94,1)" font-size="9.5" fill="#000" stroke="#000" stroke-width="0.12" text-anchor="middle">S</text>
<text transform="translate(240.07,374.7) rotate(401.94) scale(1.01,1)" font-size="9.5" fill="#000" stroke="#000" stroke-width="0.12" text-anchor="middle">V</text>
<text transform="translate(244.75,378.7) rotate(399.06) scale(1.12,1)" font-size="9.5" fill="#000" stroke="#000" stroke-width="0.12" text-anchor="middle">4</text>
<text transform="translate(249.45,382.33) rotate(396.28) scale(1.12,1)" font-size="9.5" fill="#000" stroke="#000" stroke-width="0.12" text-anchor="middle">0</text>
<text transform="translate(256.81,387.33) rotate(392.12) scale(1.12,1)" font-size="9.5" fill="#000" stroke="#000" stroke-width="0.12" text-anchor="middle">p</text>
<text transform="translate(261.81,390.31) rotate(389.41) scale(1.08,1)" font-size="9.5" fill="#000" stroke="#000" stroke-width="0.12" text-anchor="middle">o</text>
<text transform="translate(265.46,392.28) rotate(387.46) scale(1.22,1)" font-size="9.5" fill="#000" stroke="#000" stroke-width="0.12" text-anchor="middle">l</text>
<text transform="translate(269.09,394.09) rotate(385.57) scale(1.16,1)" font-size="9.5" fill="#000" stroke="#000" stroke-width="0.12" text-anchor="middle">y</text>
<text transform="translate(273.26,395.99) rotate(383.43) scale(1.15,1)" font-size="9.5" fill="#000" stroke="#000" stroke-width="0.12" text-anchor="middle">(</text>
<text transform="translate(277.9,397.89) rotate(381.08) scale(1.01,1)" font-size="9.5" fill="#000" stroke="#000" stroke-width="0.12" text-anchor="middle">A</text>
<text transform="translate(282.61,399.6) rotate(378.74) scale(1.15,1)" font-size="9.5" fill="#000" stroke="#000" stroke-width="0.12" text-anchor="middle">)</text>
<text transform="translate(289.51,401.72) rotate(375.37) scale(1.02,1)" font-size="9.5" fill="#000" stroke="#000" stroke-width="0.12" text-anchor="middle">s</text>
<text transform="translate(293.12,402.65) rotate(373.63) scale(1.22,1)" font-size="9.5" fill="#000" stroke="#000" stroke-width="0.12" text-anchor="middle">i</text>
<text transform="translate(297.27,403.58) rotate(371.64) scale(1.12,1)" font-size="9.5" fill="#000" stroke="#000" stroke-width="0.12" text-anchor="middle">g</text>
<text transform="translate(303.1,404.63) rotate(368.87) scale(1.12,1)" font-size="9.5" fill="#000" stroke="#000" stroke-width="0.12" text-anchor="middle">n</text>
<text transform="translate(308.86,405.39) rotate(366.15) scale(1.08,1)" font-size="9.5" fill="#000" stroke="#000" stroke-width="0.12" text-anchor="middle">a</text>
<text transform="translate(313,405.77) rotate(364.21) scale(1.22,1)" font-size="9.5" fill="#000" stroke="#000" stroke-width="0.12" text-anchor="middle">l</text>
<text transform="translate(330.06,405.73) rotate(356.23) scale(0.94,1)" font-size="9.5" fill="#000" stroke="#000" stroke-width="0.12" text-anchor="middle">S</text>
<text transform="translate(336.21,405.17) rotate(353.34) scale(1.01,1)" font-size="9.5" fill="#000" stroke="#000" stroke-width="0.12" text-anchor="middle">V</text>
<text transform="translate(342.33,404.3) rotate(350.45) scale(1.13,1)" font-size="9.5" fill="#000" stroke="#000" stroke-width="0.12" text-anchor="middle">4</text>
<text transform="translate(348.17,403.17) rotate(347.66) scale(1.13,1)" font-size="9.5" fill="#000" stroke="#000" stroke-width="0.12" text-anchor="middle">0</text>
<text transform="translate(357.32,400.8) rotate(343.24) scale(1.02,1)" font-size="9.5" fill="#000" stroke="#000" stroke-width="0.12" text-anchor="middle">N</text>
<text transform="translate(363.13,398.89) rotate(340.38) scale(0.99,1)" font-size="9.5" fill="#000" stroke="#000" stroke-width="0.12" text-anchor="middle">L</text>
<text transform="translate(368.34,396.9) rotate(337.77) scale(0.94,1)" font-size="9.5" fill="#000" stroke="#000" stroke-width="0.12" text-anchor="middle">S</text>
<text transform="translate(207.51,262.49) rotate(280.4) scale(0.99,1)" font-size="9.3" fill="#000" stroke="#000" stroke-width="0.12" text-anchor="middle">A</text>
<text transform="translate(209.09,255.2) rotate(284.07) scale(1.13,1)" font-size="9.3" fill="#000" stroke="#000" stroke-width="0.12" text-anchor="middle">m</text>
<text transform="translate(211.07,248.24) rotate(287.63) scale(1.1,1)" font-size="9.3" fill="#000" stroke="#000" stroke-width="0.12" text-anchor="middle">p</text>
<text transform="translate(213.03,242.59) rotate(290.58) scale(0.93,1)" font-size="9.3" fill="#000" stroke="#000" stroke-width="0.12" text-anchor="middle">R</text>
<text transform="translate(219.28,228.54) rotate(298.15) scale(1,1)" font-size="9.5" fill="#000" stroke="#000" stroke-width="0.12" text-anchor="middle">A</text>
<text transform="translate(223.12,221.89) rotate(301.93) scale(1.14,1)" font-size="9.5" fill="#000" stroke="#000" stroke-width="0.12" text-anchor="middle">m</text>
<text transform="translate(227.27,215.69) rotate(305.59) scale(1.11,1)" font-size="9.5" fill="#000" stroke="#000" stroke-width="0.12" text-anchor="middle">p</text>
<text transform="translate(230.98,210.78) rotate(308.63) scale(0.94,1)" font-size="9.5" fill="#000" stroke="#000" stroke-width="0.12" text-anchor="middle">R</text>
<text transform="translate(236.94,203.89) rotate(313.11) scale(1.11,1)" font-size="9.5" fill="#000" stroke="#000" stroke-width="0.12" text-anchor="middle">p</text>
<text transform="translate(240.33,200.42) rotate(315.49) scale(1.2,1)" font-size="9.5" fill="#000" stroke="#000" stroke-width="0.12" text-anchor="middle">r</text>
<text transform="translate(243.78,197.17) rotate(317.82) scale(1.07,1)" font-size="9.5" fill="#000" stroke="#000" stroke-width="0.12" text-anchor="middle">o</text>
<text transform="translate(249.38,192.41) rotate(321.44) scale(1.14,1)" font-size="9.5" fill="#000" stroke="#000" stroke-width="0.12" text-anchor="middle">m</text>
<text transform="translate(255.26,188.01) rotate(325.05) scale(1.07,1)" font-size="9.5" fill="#000" stroke="#000" stroke-width="0.12" text-anchor="middle">o</text>
<text transform="translate(259.13,185.42) rotate(327.34) scale(1.22,1)" font-size="9.5" fill="#000" stroke="#000" stroke-width="0.12" text-anchor="middle">t</text>
<text transform="translate(263.11,182.98) rotate(329.64) scale(1.08,1)" font-size="9.5" fill="#000" stroke="#000" stroke-width="0.12" text-anchor="middle">e</text>
<text transform="translate(267.26,180.66) rotate(331.98) scale(1.2,1)" font-size="9.5" fill="#000" stroke="#000" stroke-width="0.12" text-anchor="middle">r</text>
<text transform="translate(389.29,385.86) rotate(326.68) scale(1.01,1)" font-size="9.5" fill="#000" stroke="#000" stroke-width="0.12" text-anchor="middle">s</text>
<text transform="translate(394.95,381.91) rotate(323.45) scale(1.14,1)" font-size="9.5" fill="#000" stroke="#000" stroke-width="0.12" text-anchor="middle">m</text>
<text transform="translate(400.69,377.38) rotate(320.03) scale(1.07,1)" font-size="9.5" fill="#000" stroke="#000" stroke-width="0.12" text-anchor="middle">a</text>
<text transform="translate(403.8,374.69) rotate(318.11) scale(1.21,1)" font-size="9.5" fill="#000" stroke="#000" stroke-width="0.12" text-anchor="middle">l</text>
<text transform="translate(405.69,372.96) rotate(316.91) scale(1.21,1)" font-size="9.5" fill="#000" stroke="#000" stroke-width="0.12" text-anchor="middle">l</text>
<text transform="translate(409.98,368.74) rotate(314.09) scale(1.22,1)" font-size="9.5" fill="#000" stroke="#000" stroke-width="0.12" text-anchor="middle">t</text>
<text transform="translate(414.06,364.31) rotate(311.28) scale(1.21,1)" font-size="9.5" fill="#000" stroke="#000" stroke-width="0.12" text-anchor="middle">i</text>
<text transform="translate(416.78,361.11) rotate(309.31) scale(1.11,1)" font-size="9.5" fill="#000" stroke="#000" stroke-width="0.12" text-anchor="middle">n</text>
<text transform="translate(419.71,357.39) rotate(307.1) scale(1.22,1)" font-size="9.5" fill="#000" stroke="#000" stroke-width="0.12" text-anchor="middle">t</text>
<text transform="translate(421.9,354.4) rotate(305.36) scale(1.2,1)" font-size="9.5" fill="#000" stroke="#000" stroke-width="0.12" text-anchor="middle">r</text>
<text transform="translate(424.55,350.5) rotate(303.16) scale(1.07,1)" font-size="9.5" fill="#000" stroke="#000" stroke-width="0.12" text-anchor="middle">o</text>
<text transform="translate(427.58,345.62) rotate(300.47) scale(1.11,1)" font-size="9.5" fill="#000" stroke="#000" stroke-width="0.12" text-anchor="middle">n</text>
<text x="268.27" y="283.8" font-size="10.6" font-weight="bold" fill="#000" stroke="#000" stroke-width="0.22" textLength="108.05" lengthAdjust="spacingAndGlyphs">pGL2Basic-EcadK1</text>
<text x="305.67" y="292.8" font-size="8.2" fill="#222" stroke="#222" stroke-width="0.16" textLength="33.06" lengthAdjust="spacingAndGlyphs">5806 bp</text>
</svg>
</body></html>
